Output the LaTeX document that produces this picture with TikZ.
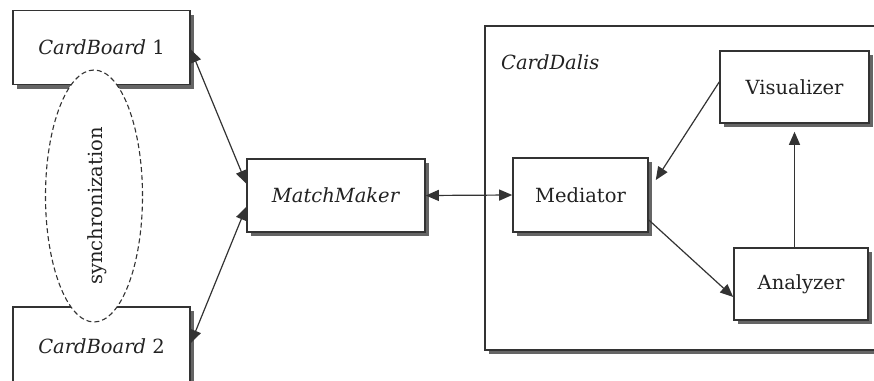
\documentclass[tikz,border=0pt]{standalone}
\usepackage{fontspec}
\setmainfont{DejaVu Serif}
\usetikzlibrary{arrows.meta,shadows,shapes.geometric}

\definecolor{edge}{HTML}{333333}
\definecolor{shade}{HTML}{656565}
\definecolor{ink}{HTML}{222222}

\tikzset{
  component/.style={
    draw=edge, line width=1.6pt, fill=white, text=ink,
    font=\fontsize{19.5}{23}\selectfont,
    inner sep=0pt, anchor=center,
    drop shadow={shadow xshift=4pt, shadow yshift=-4pt,
                 fill=shade, opacity=1}
  },
  link/.style={
    draw=edge, line width=1.2pt,
    -{Triangle[length=13pt,width=11pt]}
  },
  duplex/.style={
    draw=edge, line width=1.2pt,
    {Triangle[length=13pt,width=11pt]}-{Triangle[length=13pt,width=11pt]}
  }
}

\begin{document}
\begin{tikzpicture}[x=1pt,y=-1pt]
  \useasboundingbox (0,0) rectangle (874,380);

  % container for the CardDalis subsystem
  \node[component, minimum width=395pt, minimum height=324pt]
    (dalis) at (682.5,188) {};
  \node[font=\fontsize{19.5}{23}\selectfont\itshape, text=ink,
        anchor=west, inner sep=0pt] (dalislabel) at (501,62) {CardDalis};

  % components
  \node[component, minimum width=177pt, minimum height=74pt]
    (cb1) at (101.5,47.5) {\textit{CardBoard} 1};
  \node[component, minimum width=177pt, minimum height=78pt]
    (cb2) at (101.5,346) {\textit{CardBoard} 2};
  \node[component, minimum width=178pt, minimum height=73pt]
    (mm) at (336,195.5) {\textit{MatchMaker}};
  \node[component, minimum width=135pt, minimum height=74pt]
    (med) at (580.5,195) {Mediator};
  \node[component, minimum width=149pt, minimum height=72pt]
    (vis) at (794.5,87) {Visualizer};
  \node[component, minimum width=134pt, minimum height=72pt]
    (ana) at (801,284) {Analyzer};

  % synchronization between the two boards
  \node[ellipse, draw=edge, line width=1.1pt, dash pattern=on 5pt off 3pt,
        fill=white, minimum width=97pt, minimum height=252pt, inner sep=0pt]
    (sync) at (94,196) {};
  \node[rotate=90, text=ink, font=\fontsize{19.5}{23}\selectfont, inner sep=0pt]
    (synctext) at (97,206) {synchronization};

  % connectors
  \draw[duplex] ([yshift=-2pt]cb1.east) -- ([yshift=12pt]mm.west);
  \draw[duplex] ([yshift=3pt]cb2.east) -- ([yshift=-11.5pt]mm.west);
  \draw[duplex] (mm.east) -- (med.west);
  \draw[link] ([yshift=5pt]vis.west) -- ([xshift=7pt,yshift=15pt]med.east);
  \draw[link] ([yshift=-25pt]med.east) -- ([yshift=-13pt]ana.west);
  \draw[link] (ana.north -| vis.south) -- ([yshift=-8pt]vis.south);
\end{tikzpicture}
\end{document}
